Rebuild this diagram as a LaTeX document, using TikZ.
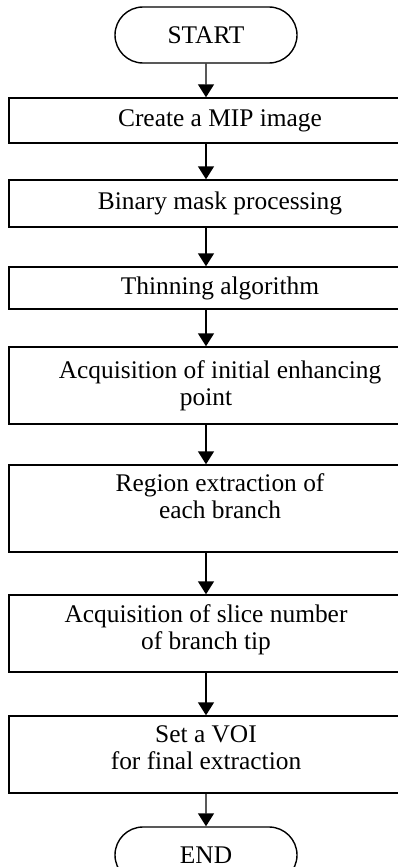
\documentclass[tikz,border=0pt]{standalone}
\usepackage{fontspec}
\setmainfont{Liberation Serif}
\usetikzlibrary{positioning,shapes.misc,arrows.meta}

\newcommand\shl[1]{#1\hspace*{28pt}}

\begin{document}
\begin{tikzpicture}[x=1pt,y=-1pt,
		every node/.style={
				font=\fontsize{25.4}{27}\selectfont,
				align=center, inner sep=0pt
			},
		stepbox/.style={rectangle, draw, line width=1.4pt, minimum width=422pt},
		termbox/.style={
				rounded rectangle, draw, line width=1.4pt,
				minimum width=182pt, minimum height=56pt
			},
		flow/.style={-{Triangle[length=13pt,width=16pt]}, line width=1.4pt}
	]
	\useasboundingbox (0,0) rectangle (398,867);
	\node[termbox] (start) at (206,35) {START};
	\node[stepbox, minimum height=45pt] (mip) at (220,120.5) {Create a MIP image};
	\node[stepbox, minimum height=47pt] (mask) at (220,203.5) {Binary mask processing};
	\node[stepbox, minimum height=42pt] (thin) at (220,288) {Thinning algorithm};
	\node[stepbox, minimum height=77pt] (seed) at (220,385.5)
	{Acquisition of initial enhancing\\\shl{point}};
	\node[stepbox, minimum height=87pt, text depth=24pt] (region) at (220,508.5)
	{Region extraction of\\each branch};
	\node[stepbox, minimum height=77pt, text depth=13pt] (slice) at (220,633.5)
	{\shl{Acquisition of slice number}\\\shl{of branch tip}};
	\node[stepbox, minimum height=77pt, text depth=13pt] (voi) at (220,754.5)
	{\shl{Set a VOI}\\\shl{for final extraction}};
	\node[termbox] (end) at (206,855) {END};

	\draw[flow] (start) -- (mip.north -| start);
	\foreach \a/\b in {mip/mask, mask/thin, thin/seed, seed/region, region/slice, slice/voi}
	\draw[flow] (\a.south -| start) -- (\b.north -| start);
	\draw[flow] (voi.south -| start) -- (end);
\end{tikzpicture}
\end{document}
